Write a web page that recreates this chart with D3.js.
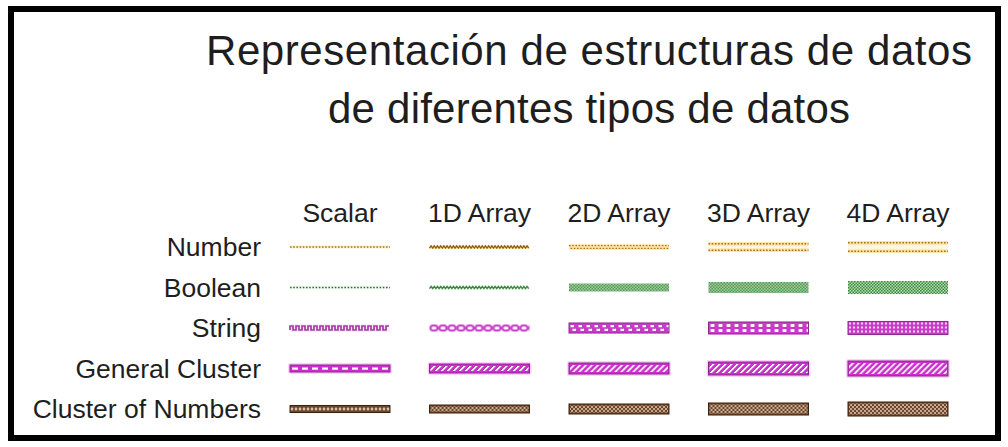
<!DOCTYPE html>
<html><head><meta charset="utf-8">
<script src="https://cdn.jsdelivr.net/npm/d3@7"></script>
<style>html,body{margin:0;padding:0;background:#fff;}svg{display:block}</style>
</head><body>
<script>
// ---- data ----
const titleLines = ["Representación de  estructuras  de datos", "de diferentes tipos  de datos"];
const dataTypes = ["Number", "Boolean", "String", "General Cluster", "Cluster of Numbers"];
const dimensions = ["Scalar", "1D Array", "2D Array", "3D Array", "4D Array"];
const dimensionCount = [0, 1, 2, 3, 4];

// ---- style ----
const W = 1008, H = 447;
const wireW = 100;
const wireHeight = {
  "Number": [3, 4, 6, 10, 12],
  "Boolean": [3, 4, 8, 11, 13],
  "String": [6, 7, 10, 12, 13],
  "General Cluster": [7, 9, 11, 13, 15],
  "Cluster of Numbers": [7, 8, 10, 12, 14]
};
const font = "'Liberation Sans', Arial, sans-serif";

const svg = d3.select("body").append("svg").attr("width", W).attr("height", H);
svg.append("rect").attr("width", W).attr("height", H).attr("fill", "#fff");
const defs = svg.append("defs");

// frame
svg.append("rect").attr("x", 11).attr("y", 9).attr("width", 987).attr("height", 429)
  .attr("fill", "none").attr("stroke", "#000").attr("stroke-width", 6);

// title
svg.selectAll("text.title").data(titleLines).join("text").attr("class", "title")
  .attr("x", 589).attr("y", (d, i) => 65 + i * 58)
  .attr("text-anchor", "middle").attr("font-family", font).attr("font-size", 42)
  .attr("fill", "#1e1e1e").attr("textLength", (d, i) => i === 0 ? 766 : 522)
  .attr("lengthAdjust", "spacing")
  .text(d => d);

const x = d3.scalePoint().domain(dimensions).range([340, 898]);
const y = d3.scalePoint().domain(dataTypes).range([247, 409]);

// column headers
svg.selectAll("text.col").data(dimensions).join("text").attr("class", "col")
  .attr("x", d => x(d)).attr("y", 222).attr("text-anchor", "middle")
  .attr("font-family", font).attr("font-size", 26.5).attr("fill", "#1e1e1e").text(d => d);

// row labels
svg.selectAll("text.row").data(dataTypes).join("text").attr("class", "row")
  .attr("x", 261).attr("y", d => y(d) + 9).attr("text-anchor", "end")
  .attr("font-family", font).attr("font-size", 26.5).attr("fill", "#1e1e1e").text(d => d);

// ---- helpers ----
function pattern(id, pw, ph, build, transform) {
  const p = defs.append("pattern").attr("id", id).attr("patternUnits", "userSpaceOnUse")
    .attr("width", pw).attr("height", ph);
  if (transform) p.attr("patternTransform", transform);
  build(p);
  return `url(#${id})`;
}
function band(g, w, y0, h, fill, op) {
  return g.append("rect").attr("x", 0).attr("y", y0).attr("width", w).attr("height", h)
    .attr("fill", fill).attr("opacity", op == null ? 1 : op);
}
function dots(g, w, yy, color, off) {
  g.append("line").attr("x1", 0).attr("x2", w).attr("y1", yy).attr("y2", yy)
    .attr("stroke", color).attr("stroke-width", 1.4)
    .attr("stroke-dasharray", "1.6 1.6").attr("stroke-dashoffset", off || 0);
}
function zig(g, w, yy, amp, period, color) {
  const pts = [];
  for (let i = 0, k = 0; i <= w; i += period / 2, k++) pts.push([i, yy + (k % 2 ? -amp : amp)]);
  g.append("path").attr("d", d3.line()(pts)).attr("fill", "none")
    .attr("stroke", color).attr("stroke-width", 1.3);
}

const drawers = {
  "Number": (g, d, w, h, id) => {
    const c = "#a8720e", halo = "#ffe2a0";
    if (d === 0) { band(g, w, 0, h, halo, 0.6); dots(g, w, h / 2, c); }
    else if (d === 1) { band(g, w, 0, h, halo, 0.7); zig(g, w, h / 2, 1.2, 3.2, "#8e5f0a"); }
    else if (d === 2) { band(g, w, 0, h, halo, 0.8); dots(g, w, h / 2 - 1.4, c); dots(g, w, h / 2 + 1.4, c, 1.6); }
    else {
      band(g, w, 0, h, "#fff3d8", 0.8);
      band(g, w, 0, 3.6, halo, 0.9); band(g, w, h - 3.6, 3.6, halo, 0.9);
      dots(g, w, 1.8, c); dots(g, w, h - 1.8, c);
    }
  },
  "Boolean": (g, d, w, h, id) => {
    const c = "#2f702f";
    if (d === 0) { band(g, w, 0, h, "#e8f6e8", 0.6); dots(g, w, h / 2, c); }
    else if (d === 1) { band(g, w, 0, h, "#dff2df", 0.7); zig(g, w, h / 2, 1.1, 3.2, "#3d8a3d"); }
    else {
      const f = pattern("pb" + id, 3, 3, p => {
        p.append("rect").attr("width", 3).attr("height", 3).attr("fill", "#b8e0b8");
        p.append("rect").attr("width", 1.5).attr("height", 1.5).attr("fill", "#3a853a");
        p.append("rect").attr("x", 1.5).attr("y", 1.5).attr("width", 1.5).attr("height", 1.5).attr("fill", "#3a853a");
      });
      band(g, w, 0, h, f);
    }
  },
  "String": (g, d, w, h, id) => {
    const mag = "#c83ac8", dark = "#8e2c8e";
    if (d === 0) {
      band(g, w, -1, h + 2, "#fbe4fb", 0.7);
      const p = d3.path(); p.moveTo(0, h - 1);
      let k = 0;
      for (let xx = 3; xx <= w; xx += 3, k++) {
        const yy = k % 2 === 0 ? 1 : h - 1;
        p.lineTo(xx - 3, yy); p.lineTo(xx, yy);
      }
      g.append("path").attr("d", p.toString()).attr("fill", "none").attr("stroke", "#a43aa4").attr("stroke-width", 1.7);
    } else if (d === 1) {
      const f = pattern("ps" + id, 9, h, p => {
        p.append("rect").attr("width", 9).attr("height", h).attr("fill", "#fff");
        p.append("rect").attr("x", 1).attr("y", 1).attr("width", 7).attr("height", h - 2).attr("rx", 2.5)
          .attr("fill", "#fff").attr("stroke", mag).attr("stroke-width", 2);
        p.append("rect").attr("x", 7).attr("y", h / 2 - 1).attr("width", 3).attr("height", 2).attr("fill", mag);
      });
      band(g, w, 0, h, f);
    } else {
      const f = pattern("ps" + id, d === 4 ? 4 : 8, d === 4 ? 4 : h, p => {
        if (d === 2) {
          p.append("rect").attr("width", 8).attr("height", h).attr("fill", mag);
          p.append("rect").attr("x", 1.5).attr("y", 2).attr("width", 3.5).attr("height", 2.2).attr("fill", "#fff");
          p.append("rect").attr("x", 3.5).attr("y", 5.8).attr("width", 3.5).attr("height", 2.2).attr("fill", "#fff");
        } else if (d === 3) {
          p.append("rect").attr("width", 8).attr("height", h).attr("fill", mag);
          p.append("rect").attr("x", 2).attr("y", 2).attr("width", 4).attr("height", 3).attr("rx", 1).attr("fill", "#fff");
          p.append("rect").attr("x", 2).attr("y", 7).attr("width", 4).attr("height", 3).attr("rx", 1).attr("fill", "#fff");
        } else {
          p.append("rect").attr("width", 4).attr("height", 4).attr("fill", mag);
          p.append("circle").attr("cx", 2).attr("cy", 2).attr("r", 1.1).attr("fill", "#fff");
        }
      });
      band(g, w, -1, h + 2, "#fbdcfb", 0.7);
      band(g, w, 0, h, f).attr("stroke", dark).attr("stroke-width", 1);
    }
  },
  "General Cluster": (g, d, w, h, id) => {
    const mag = "#cc30cc", dark = "#86288a";
    g.append("rect").attr("x", -2).attr("y", -2).attr("width", w + 4).attr("height", h + 4).attr("rx", 2)
      .attr("fill", "#ffc4ff").attr("opacity", 0.75);
    band(g, w, 0, h, mag).attr("stroke", dark).attr("stroke-width", 1);
    if (d === 0) {
      const f = pattern("pg" + id, 10, h, p => {
        p.append("rect").attr("x", 2).attr("y", h / 2 - 1).attr("width", 6).attr("height", 2.2).attr("fill", "#fff");
      });
      band(g, w, 0, h, f);
    } else {
      const f = pattern("pg" + id, 6, 6, p => {
        p.append("rect").attr("width", 2.4).attr("height", 6).attr("fill", "#fff");
      }, "skewX(-45)");
      band(g, w - 2, 2, h - 4, f).attr("x", 1);
    }
  },
  "Cluster of Numbers": (g, d, w, h, id) => {
    band(g, w, -1, h + 2, "#fff0d0", 0.6);
    band(g, w, 0, h, "#6c4630").attr("stroke", "#3a2210").attr("stroke-width", 1);
    if (d === 0) {
      const f = pattern("pc" + id, 4, h, p => {
        p.append("circle").attr("cx", 2).attr("cy", h / 2).attr("r", 1.3).attr("fill", "#f2dcbc");
      });
      band(g, w, 0, h, f);
    } else {
      const f = pattern("pc" + id, 4, 4, p => {
        p.append("circle").attr("cx", 1).attr("cy", 1).attr("r", 0.95).attr("fill", "#eed6b4");
        p.append("circle").attr("cx", 3).attr("cy", 3).attr("r", 0.95).attr("fill", "#eed6b4");
      });
      band(g, w - 2, 1.5, h - 3, f).attr("x", 1);
    }
  }
};

// wires
svg.selectAll("g.wire").data(d3.cross(dataTypes, dimensionCount)).join("g").attr("class", "wire")
  .attr("transform", ([t, d]) => `translate(${x(dimensions[d]) - wireW / 2},${y(t) - wireHeight[t][d] / 2})`)
  .each(function ([t, d]) {
    drawers[t](d3.select(this), d, wireW, wireHeight[t][d], `${dataTypes.indexOf(t)}-${d}`);
  });
</script>
</body></html>
